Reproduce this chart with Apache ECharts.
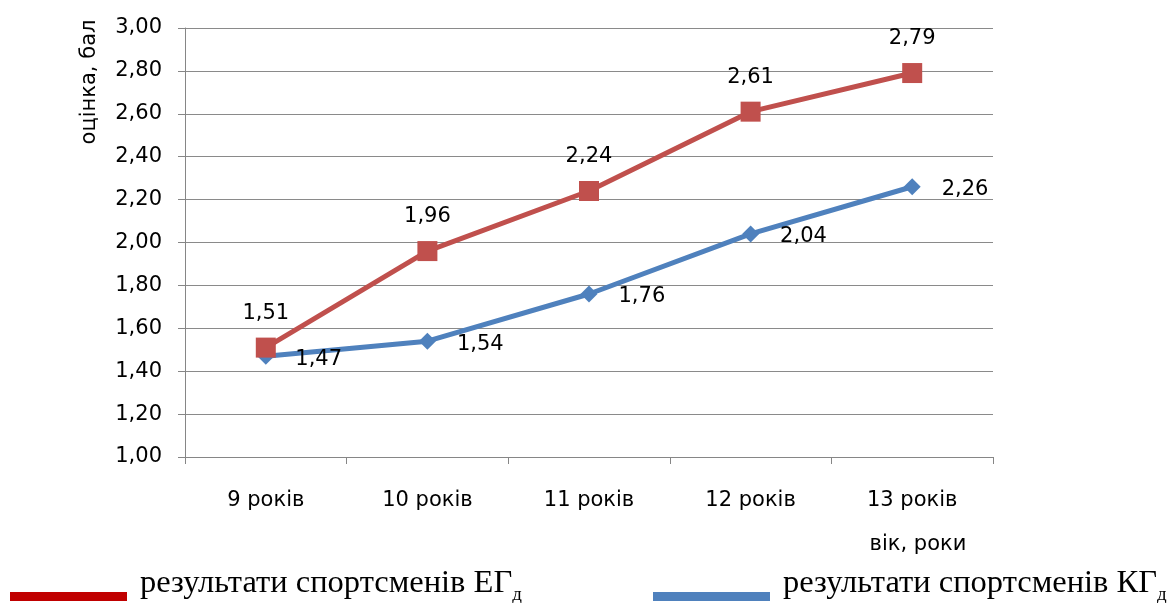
<!DOCTYPE html>
<html>
<head>
<meta charset="utf-8">
<script src="https://cdn.jsdelivr.net/npm/echarts@6/dist/echarts.min.js"></script>
<style>
  html, body { margin: 0; padding: 0; background: #fff; }
  #chart { width: 1168px; height: 603px; }
</style>
</head>
<body>
<div id="chart"></div>
<script>
// Age groups and average scores for the two groups of athletes
const categories = ['9 років', '10 років', '11 років', '12 років', '13 років'];
const egScores = [1.51, 1.96, 2.24, 2.61, 2.79];
const kgScores = [1.47, 1.54, 1.76, 2.04, 2.26];
const seriesNames = ['результати спортсменів ЕГ', 'результати спортсменів КГ'];

const fmt = v => v.toFixed(2).replace('.', ',');
const baseFont = '"DejaVu Sans", sans-serif';
const baseSize = 21;

const chart = echarts.init(document.getElementById('chart'));

// One legend per series so each swatch can sit where it belongs
function legendFor(idx, left, swatch) {
  return {
    data: [{ name: seriesNames[idx], itemStyle: { color: swatch, borderWidth: 0 }, icon: 'rect' }],
    left: left,
    top: 562,
    itemWidth: 117,
    itemHeight: 9,
    selectedMode: false,
    formatter: name => '{m|' + name + '}{s|д}',
    textStyle: {
      rich: {
        m: { fontFamily: '"Liberation Serif", serif', fontSize: 32.5, color: '#000', padding: [0, 0, 26, 8] },
        s: { fontFamily: '"Liberation Serif", serif', fontSize: 19, color: '#000', padding: [0, 0, 2, 0] }
      }
    }
  };
}

chart.setOption({
  animation: false,
  grid: { left: 185, right: 175, top: 28, bottom: 146 },
  legend: [legendFor(0, 5, '#C00000'), legendFor(1, 648, '#4F81BD')],
  xAxis: {
    type: 'category',
    data: categories,
    boundaryGap: true,
    axisLine: { lineStyle: { color: '#868686', width: 1 } },
    axisTick: { show: true, length: 7, lineStyle: { color: '#868686' } },
    axisLabel: { color: '#000', fontSize: baseSize, fontFamily: baseFont, margin: 33 }
  },
  yAxis: {
    type: 'value',
    min: 1,
    max: 3,
    interval: 0.2,
    axisLine: { show: true, lineStyle: { color: '#868686', width: 1 } },
    axisTick: { show: true, length: 7, lineStyle: { color: '#868686' } },
    axisLabel: { color: '#000', fontSize: baseSize, fontFamily: baseFont, margin: 23, formatter: v => fmt(v) },
    splitLine: { lineStyle: { color: '#8a8a8a', width: 1 } }
  },
  graphic: [
    {
      type: 'text',
      x: 90, y: 82,
      rotation: Math.PI / 2,
      style: {
        text: 'оцінка, бал',
        font: baseSize + 'px ' + baseFont,
        fill: '#000',
        align: 'center',
        verticalAlign: 'middle'
      }
    },
    {
      type: 'text',
      x: 918, y: 545,
      style: {
        text: 'вік, роки',
        font: baseSize + 'px ' + baseFont,
        fill: '#000',
        align: 'center',
        verticalAlign: 'middle'
      }
    }
  ],
  series: [
    {
      name: seriesNames[0],
      type: 'line',
      data: egScores,
      symbol: 'rect',
      symbolSize: 20,
      lineStyle: { color: '#C0504D', width: 5 },
      itemStyle: { color: '#C0504D' },
      label: {
        show: true,
        position: 'top',
        distance: 14,
        color: '#000',
        fontSize: baseSize,
        fontFamily: baseFont,
        formatter: p => fmt(p.value)
      },
      z: 3
    },
    {
      name: seriesNames[1],
      type: 'line',
      data: kgScores,
      symbol: 'diamond',
      symbolSize: 17,
      lineStyle: { color: '#4F81BD', width: 5 },
      itemStyle: { color: '#4F81BD' },
      label: {
        show: true,
        position: 'right',
        distance: 21,
        offset: [0, 3],
        color: '#000',
        fontSize: baseSize,
        fontFamily: baseFont,
        formatter: p => fmt(p.value)
      },
      z: 2
    }
  ]
});
</script>
</body>
</html>
